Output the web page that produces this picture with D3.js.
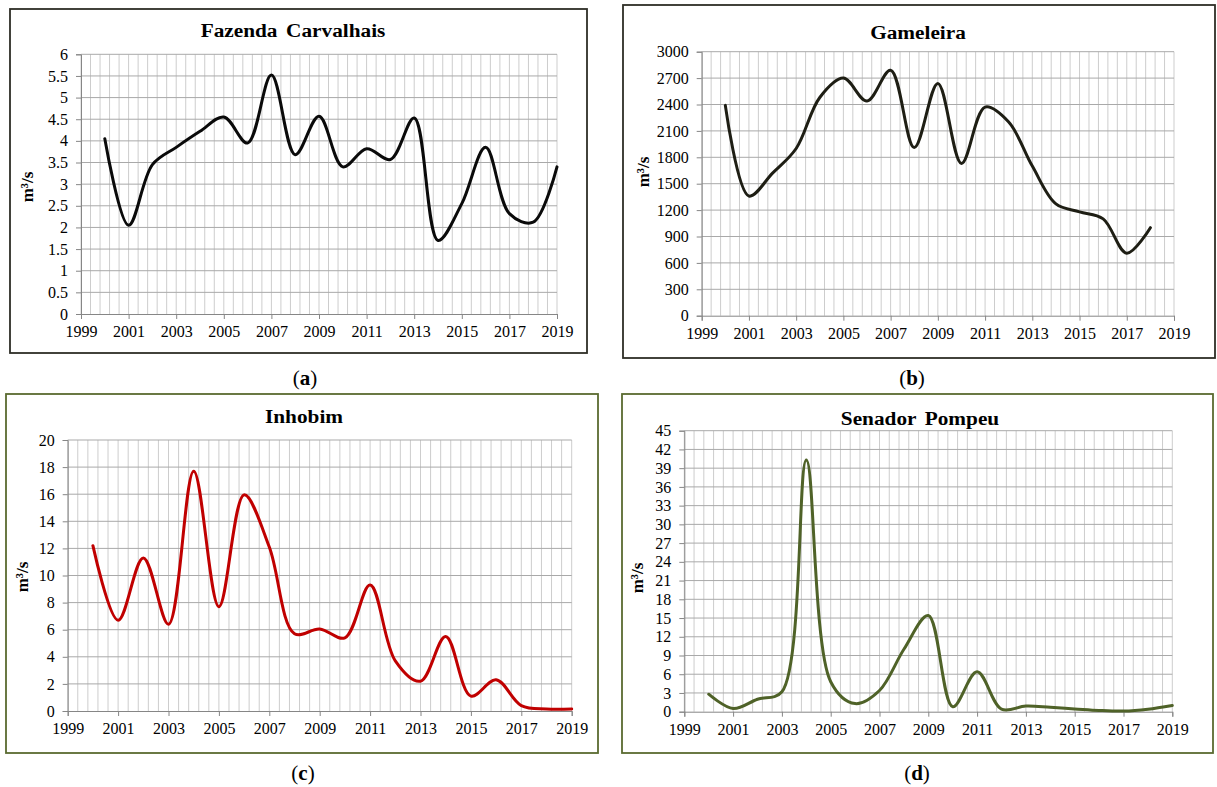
<!DOCTYPE html>
<html>
<head>
<meta charset="utf-8">
<script src="https://cdn.jsdelivr.net/npm/d3@7"></script>
<style>
  html, body { margin: 0; padding: 0; background: #fff; }
  svg { display: block; }
</style>
</head>
<body>
<svg id="chart" width="1217" height="787"></svg>
<script>
// Annual mean discharge (m³/s) at four gauging stations
const yearsFull = [2000, 2001, 2002, 2003, 2004, 2005, 2006, 2007, 2008, 2009,
                   2010, 2011, 2012, 2013, 2014, 2015, 2016, 2017, 2018, 2019];
const yearsGameleira = [2000, 2001, 2002, 2003, 2004, 2005, 2006, 2007, 2008, 2009,
                        2010, 2011, 2012, 2013, 2014, 2015, 2016, 2017, 2018];

const fazendaCarvalhais = [4.05, 2.05, 3.45, 3.85, 4.22, 4.55, 3.95, 5.52, 3.68, 4.57,
                           3.40, 3.82, 3.57, 4.53, 1.70, 2.55, 3.85, 2.32, 2.12, 3.40];
const gameleira = [2390, 1360, 1620, 1900, 2480, 2700, 2440, 2790, 1910, 2640,
                   1730, 2370, 2200, 1700, 1270, 1180, 1100, 710, 1000];
const inhobim = [12.2, 6.7, 11.3, 6.4, 17.7, 7.7, 15.95, 12.1, 5.7, 6.05,
                 5.4, 9.3, 3.7, 2.2, 5.5, 1.1, 2.3, 0.4, 0.15, 0.15];
const senadorPompeu = [2.8, 0.5, 2.0, 3.2, 40.3, 4.8, 1.3, 3.4, 10.0, 15.4,
                       0.8, 6.4, 0.4, 0.9, 0.7, 0.45, 0.2, 0.1, 0.4, 1.0];

// Axis tick labels
const xTicks = [1999, 2001, 2003, 2005, 2007, 2009, 2011, 2013, 2015, 2017, 2019];
const yTicksFazenda = [0, 0.5, 1, 1.5, 2, 2.5, 3, 3.5, 4, 4.5, 5, 5.5, 6];
const yTicksGameleira = [0, 300, 600, 900, 1200, 1500, 1800, 2100, 2400, 2700, 3000];
const yTicksInhobim = [0, 2, 4, 6, 8, 10, 12, 14, 16, 18, 20];
const yTicksSenador = [0, 3, 6, 9, 12, 15, 18, 21, 24, 27, 30, 33, 36, 39, 42, 45];

const titles = ["Fazenda Carvalhais", "Gameleira", "Inhobim", "Senador Pompeu"];
const captions = ["a", "b", "c", "d"];

const SERIF = "'Liberation Serif', 'Times New Roman', Times, serif";
const svg = d3.select("#chart");

const panels = [
  { title: titles[0], caption: captions[0], years: yearsFull, values: fazendaCarvalhais,
    yTicks: yTicksFazenda, color: "#0a0a0a", frameColor: "#2e2e26",
    frame: [10, 9, 587, 353], x: [81, 557], y: [314, 54.3],
    titlePos: [293, 30], yLabelPos: [27, 187], captionPos: [305, 378] },
  { title: titles[1], caption: captions[1], years: yearsGameleira, values: gameleira,
    yTicks: yTicksGameleira, color: "#1e1e14", frameColor: "#2e2e26",
    frame: [623, 5, 1215, 358], x: [701.7, 1174], y: [315.7, 51.7],
    titlePos: [918, 32], yLabelPos: [643, 172], captionPos: [912, 378] },
  { title: titles[2], caption: captions[2], years: yearsFull, values: inhobim,
    yTicks: yTicksInhobim, color: "#c00000", frameColor: "#5a6b30",
    frame: [6, 394, 598, 753], x: [67.7, 571.7], y: [711, 440],
    titlePos: [304, 416], yLabelPos: [22, 577], captionPos: [303, 773] },
  { title: titles[3], caption: captions[3], years: yearsFull, values: senadorPompeu,
    yTicks: yTicksSenador, color: "#4f6228", frameColor: "#5a6b30",
    frame: [622, 394, 1213, 753], x: [684.3, 1172.3], y: [711.7, 430.7],
    titlePos: [920, 418], yLabelPos: [637, 578], captionPos: [917, 773] }
];

panels.forEach(p => {
  const g = svg.append("g");
  const [fx0, fy0, fx1, fy1] = p.frame;

  // Outer chart border
  g.append("rect")
    .attr("x", fx0).attr("y", fy0)
    .attr("width", fx1 - fx0).attr("height", fy1 - fy0)
    .attr("fill", "#fff")
    .attr("stroke", p.frameColor)
    .attr("stroke-width", 1.8);

  const x = d3.scaleLinear().domain([1999, 2019]).range(p.x);
  const yMax = p.yTicks[p.yTicks.length - 1];
  const y = d3.scaleLinear().domain([0, yMax]).range(p.y);

  // Minor vertical gridlines every 0.4 year
  const minor = d3.range(0, 51).map(i => 1999 + i * 0.4);
  g.append("g").selectAll("line").data(minor).join("line")
    .attr("x1", d => x(d)).attr("x2", d => x(d))
    .attr("y1", y(0)).attr("y2", y(yMax))
    .attr("stroke", "#cdcdcd").attr("stroke-width", 1);

  // Horizontal gridlines at major ticks
  g.append("g").selectAll("line").data(p.yTicks.slice(1)).join("line")
    .attr("x1", x(1999)).attr("x2", x(2019))
    .attr("y1", d => y(d)).attr("y2", d => y(d))
    .attr("stroke", "#a9a9a9").attr("stroke-width", 1);

  // Y axis
  const yAxis = d3.axisLeft(y).tickValues(p.yTicks)
    .tickSize(5).tickPadding(8).tickFormat(d => String(d));
  const ya = g.append("g").attr("transform", `translate(${x(1999)},0)`).call(yAxis)
    .attr("font-family", SERIF).attr("font-size", 16);
  ya.select(".domain").attr("stroke", "#868686");
  ya.selectAll(".tick line").attr("stroke", "#868686");
  ya.selectAll(".tick text").attr("fill", "#000");

  // X axis
  const xAxis = d3.axisBottom(x).tickValues(xTicks)
    .tickSize(5).tickPadding(7).tickFormat(d => String(d));
  const xa = g.append("g").attr("transform", `translate(0,${y(0)})`).call(xAxis)
    .attr("font-family", SERIF).attr("font-size", 16);
  xa.select(".domain").attr("stroke", "#868686");
  xa.selectAll(".tick line").attr("stroke", "#868686");
  xa.selectAll(".tick text").attr("fill", "#000");

  // Smoothed series line
  const line = d3.line()
    .x((d, i) => x(p.years[i]))
    .y(d => y(d))
    .curve(d3.curveCatmullRom.alpha(0.5));
  g.append("path")
    .datum(p.values)
    .attr("d", line)
    .attr("fill", "none")
    .attr("stroke", p.color)
    .attr("stroke-width", 3)
    .attr("stroke-linejoin", "round")
    .attr("stroke-linecap", "round");

  // Title (slightly widened serif face)
  g.append("text")
    .attr("transform", `translate(${p.titlePos[0]},${p.titlePos[1]}) scale(1.12,1)`)
    .attr("text-anchor", "middle").attr("dominant-baseline", "central")
    .attr("font-family", SERIF)
    .attr("font-size", 19).attr("font-weight", "bold")
    .attr("word-spacing", 3)
    .text(p.title);

  // Y axis label
  g.append("text")
    .attr("transform", `translate(${p.yLabelPos[0]},${p.yLabelPos[1]}) rotate(-90)`)
    .attr("text-anchor", "middle").attr("dominant-baseline", "central")
    .attr("font-family", SERIF)
    .attr("font-size", 17).attr("font-weight", "bold")
    .text("m³/s");

  // Panel caption
  const cap = svg.append("text")
    .attr("x", p.captionPos[0]).attr("y", p.captionPos[1])
    .attr("text-anchor", "middle").attr("dominant-baseline", "central")
    .attr("font-family", SERIF)
    .attr("font-size", 21);
  cap.append("tspan").text("(");
  cap.append("tspan").attr("font-weight", "bold").text(p.caption);
  cap.append("tspan").text(")");
});
</script>
</body>
</html>
